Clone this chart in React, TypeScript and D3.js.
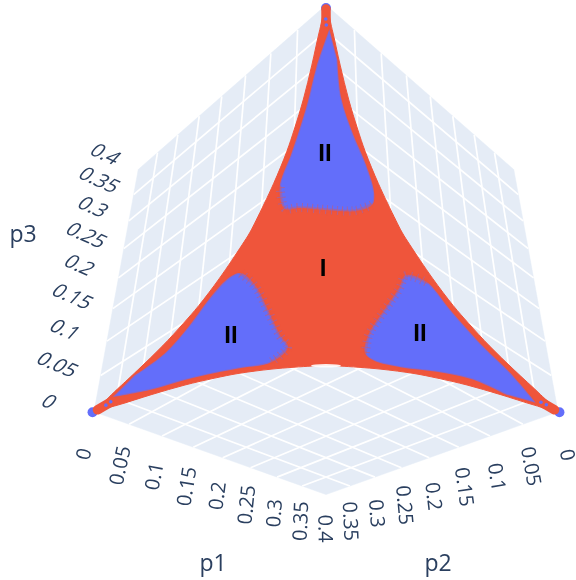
import React from "react";
import * as d3 from "d3";

type P = [number, number, number];

const ticks = [0, 0.05, 0.1, 0.15, 0.2, 0.25, 0.3, 0.35, 0.4];
const tickText = ["0", "0.05", "0.1", "0.15", "0.2", "0.25", "0.3", "0.35", "0.4"];

// lower edge of the region, left tip to the middle
const edgeP1 = [0.001, 0.0173, 0.0414, 0.0652, 0.0876, 0.1052, 0.1323, 0.1652, 0.177];
const edgeP2 = [0.398, 0.376, 0.3414, 0.3082, 0.2789, 0.2568, 0.2253, 0.1894, 0.177];
const edgeP3 = [0.001, 0.0067, 0.0172, 0.0266, 0.0335, 0.038, 0.0424, 0.0454, 0.046];

// region II around the p2 tip
const lobeP1 = [0.009, 0.0389, 0.0627, 0.0851, 0.1027, 0.1288, 0.1352, 0.1223, 0.0997, 0.0762, 0.0583, 0.0508, 0.0439, 0.0399, 0.0323, 0.0172];
const lobeP2 = [0.3763, 0.3389, 0.3057, 0.2764, 0.2543, 0.2218, 0.2006, 0.2015, 0.1994, 0.1983, 0.2044, 0.2158, 0.2434, 0.274, 0.3095, 0.3463];
const lobeP3 = [0.0147, 0.0222, 0.0316, 0.0385, 0.043, 0.0494, 0.0642, 0.0762, 0.1009, 0.1255, 0.1373, 0.1334, 0.1127, 0.0861, 0.0582, 0.0365];
const lobeInnerFrom = 5;
const lobeInnerTo = 10;

const tipRun: P[] = [[0.002, 0.396, 0.002], [0.0091, 0.3817, 0.0092]];
const tipSpots: P[] = [[0.007, 0.3864, 0.0066], [0.0095, 0.3805, 0.01]];
const notch: P = [0.177, 0.177, 0.0455];

const labels = [
  { text: "I", at: [0.1258, 0.1309, 0.1433] as P },
  { text: "II", at: [0.0797, 0.2432, 0.0771] as P },
  { text: "II", at: [0.2414, 0.0796, 0.079] as P },
  { text: "II", at: [0.0709, 0.0727, 0.2564] as P },
];
const tips: P[] = [[-0.001, 0.4015, -0.0005], [0.4015, -0.001, -0.0005], [0.0015, 0.0015, 0.397]];

// projective camera: far corner and the three vanishing points
const origin = [326, 275];
const vanish = [[1269, 831], [-617, 831], [326, -859]];
const gain = [0.8158, 0.8158, 0.78125];
function project(p: P): [number, number] {
  const w = p.map((v, i) => v * gain[i]);
  const d = 1 + w[0] + w[1] + w[2];
  return [
    (origin[0] + w[0] * vanish[0][0] + w[1] * vanish[1][0] + w[2] * vanish[2][0]) / d,
    (origin[1] + w[0] * vanish[0][1] + w[1] * vanish[1][1] + w[2] * vanish[2][1]) / d,
  ];
}
const rot = (p: P): P => [p[1], p[2], p[0]];
const line = d3.line<P>((p) => project(p)[0], (p) => project(p)[1]);
const smooth = d3.line<P>((p) => project(p)[0], (p) => project(p)[1]).curve(d3.curveCatmullRom.alpha(0.5));

const leftEdge: P[] = edgeP1.map((v, i) => [v, edgeP2[i], edgeP3[i]]);
const bottomEdge: P[] = [...leftEdge, ...leftEdge.slice(0, -1).reverse().map((p) => [p[1], p[0], p[2]] as P)];
const rightEdge = bottomEdge.map(rot);
const topEdge = rightEdge.map(rot);
const starPts = [...bottomEdge, ...rightEdge.slice(1), ...topEdge.slice(1, -1)];
const lobe0: P[] = lobeP1.map((v, i) => [v, lobeP2[i], lobeP3[i]]);
const lobes = [lobe0, lobe0.map(rot), lobe0.map(rot).map(rot)];

const BLUE = "#636EFA";
const RED = "#EF553B";
const INK = "#2a3f5f";
const WALL = "#E5ECF6";
const FONT = "'Open Sans', sans-serif";
const M = 0.4;

const lerp = (a: number, b: number) => d3.scaleLinear().domain([0, M]).range([a, b]);

const walls: P[][] = [
  [[0, 0, 0], [0, M, 0], [M, M, 0], [M, 0, 0]],
  [[0, 0, 0], [0, M, 0], [0, M, M], [0, 0, M]],
  [[0, 0, 0], [M, 0, 0], [M, 0, M], [0, 0, M]],
];
const gridLines: P[][] = ticks.slice(0, -1).flatMap((c) => [
  [[c, 0, 0], [c, M, 0]],
  [[0, c, 0], [M, c, 0]],
  [[0, c, 0], [0, c, M]],
  [[0, 0, c], [0, M, c]],
  [[c, 0, 0], [c, 0, M]],
  [[0, 0, c], [M, 0, c]],
] as P[][]);

function TickRow({ axis }: { axis: 0 | 1 | 2 }) {
  const cfg = [
    { at: (c: number): P => [c, M, 0], dx: lerp(-11, -1), dy: lerp(42, 34), r: lerp(-76, -89), sk: 0, last: 7 },
    { at: (c: number): P => [M, c, 0], dx: lerp(10, 0), dy: lerp(43, 34), r: lerp(78, 89), sk: 0, last: 8 },
    { at: (c: number): P => [0, M, c], dx: lerp(-44, -32), dy: lerp(-11, -16), r: lerp(23, 25), sk: -18, last: 8 },
  ][axis];
  return (
    <g>
      {ticks.slice(0, cfg.last + 1).map((c, i) => {
        const [x, y] = project(cfg.at(c));
        return (
          <text
            key={i}
            transform={`translate(${x + cfg.dx(c)},${y + cfg.dy(c)}) rotate(${cfg.r(c)}) skewX(${cfg.sk})`}
            textAnchor="middle"
            dominantBaseline="central"
            fontFamily={FONT}
            fontSize={20}
            fill={INK}
          >
            {tickText[i]}
          </text>
        );
      })}
    </g>
  );
}

export default function App() {
  const [nx, ny] = project(notch);
  return (
    <svg
      width={576}
      height={580}
      viewBox="0 0 576 580"
      style={{ position: "absolute", left: 0, top: 0, filter: "blur(0.4px)" }}
    >
      <rect width={576} height={580} fill="#fff" />
      {walls.map((w, i) => (
        <path key={i} d={line(w) + "Z"} fill={WALL} stroke={WALL} strokeWidth={0.5} />
      ))}
      {gridLines.map((g, i) => (
        <path key={i} d={line(g) ?? ""} stroke="#fff" strokeWidth={1.7} fill="none" />
      ))}

      {tips.map((t, i) => {
        const [x, y] = project(t);
        return <circle key={i} cx={x} cy={y} r={5} fill={BLUE} />;
      })}
      <path d={smooth(starPts) + "Z"} fill={RED} stroke={RED} strokeWidth={1} />
      {[tipRun, tipRun.map(rot), tipRun.map(rot).map(rot)].map((t, i) => (
        <path key={i} d={line(t) ?? ""} stroke={RED} strokeWidth={9.5} strokeLinecap="round" fill="none" />
      ))}

      {lobes.map((l, i) => {
        const inner = l.slice(lobeInnerFrom, lobeInnerTo + 1);
        return (
          <g key={i}>
            <path d={smooth(l) + "Z"} fill={BLUE} />
            <path d={smooth(l) + "Z"} fill="none" stroke={RED} strokeOpacity={0.25} strokeWidth={2} />
            <path d={smooth(inner) ?? ""} fill="none" stroke={RED} strokeOpacity={0.3} strokeWidth={4} strokeLinecap="round" strokeDasharray="2.5 1.5" />
            <path d={smooth(inner) ?? ""} fill="none" stroke={RED} strokeOpacity={0.45} strokeWidth={10} strokeDasharray="1 4" />
            <path d={smooth(inner) ?? ""} fill="none" stroke={BLUE} strokeOpacity={0.4} strokeWidth={8} strokeDasharray="1 5" strokeDashoffset={2.5} />
          </g>
        );
      })}

      {[tipSpots, tipSpots.map(rot), tipSpots.map(rot).map(rot)].flat().map((p, i) => {
        const [x, y] = project(p);
        return <circle key={i} cx={x} cy={y} r={1.8} fill={BLUE} />;
      })}

      <ellipse cx={nx} cy={ny} rx={15} ry={1.8} fill="#fff" opacity={0.9} />

      {labels.map((l, i) => {
        const [x, y] = project(l.at);
        return (
          <text key={i} x={x} y={y} textAnchor="middle" dominantBaseline="central"
            fontFamily="'Liberation Sans', Arial, sans-serif" fontWeight={700} fontSize={24} fill="#000">
            {l.text}
          </text>
        );
      })}

      <TickRow axis={0} />
      <TickRow axis={1} />
      <TickRow axis={2} />
      <text x={213} y={562} textAnchor="middle" dominantBaseline="central" fontFamily={FONT} fontSize={23} fill={INK}>p1</text>
      <text x={438} y={562} textAnchor="middle" dominantBaseline="central" fontFamily={FONT} fontSize={23} fill={INK}>p2</text>
      <text x={23} y={233} textAnchor="middle" dominantBaseline="central" fontFamily={FONT} fontSize={23} fill={INK}>p3</text>
    </svg>
  );
}
